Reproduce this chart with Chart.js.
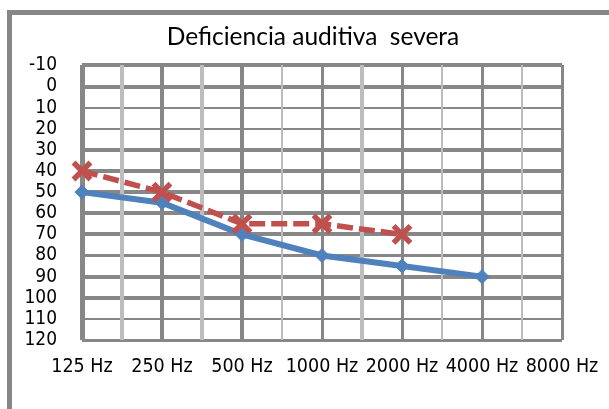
<!DOCTYPE html>
<html>
<head>
<meta charset="utf-8">
<script src="https://cdn.jsdelivr.net/npm/chart.js@4/dist/chart.umd.min.js"></script>
<style>
  html, body { margin: 0; padding: 0; background: #fff; overflow: hidden; }
  #wrap { position: relative; width: 609px; height: 409px; overflow: hidden; }
  #frame { position: absolute; left: 7px; top: 10px; width: 700px; height: 500px;
           border: 5px solid #878787; box-sizing: border-box; }
  canvas { position: absolute; left: 0; top: 0; }
</style>
</head>
<body>
<div id="wrap">
  <div id="frame"></div>
  <canvas id="c" width="609" height="409"></canvas>
</div>
<script>
// ---- data ----
const categories = ['125 Hz', '250 Hz', '500 Hz', '1000 Hz', '2000 Hz', '4000 Hz', '8000 Hz'];
const serieAzul = [50, 55, 70, 80, 85, 90, null];
const serieRoja = [40, 50, 65, 65, 70, null, null];
const yTickLabels = [-10, 0, 10, 20, 30, 40, 50, 60, 70, 80, 90, 100, 110, 120];
const titulo = 'Deficiencia auditiva  severa';

// ---- styles ----
const hWidths = [3, 2, 4, 4, 3, 4, 4, 4, 4, 4, 2, 2, 4, 4];
const vWidths = [5, 4, 4, 4, 4, 2, 3, 4, 3, 2, 3, 2, 3];
const darkGrid = '#878787';
const lightGrid = '#bdbdbd';
const labelFont = "'Liberation Sans Narrow', 'DejaVu Sans Condensed', sans-serif";

new Chart(document.getElementById('c'), {
  type: 'line',
  data: {
    labels: categories,
    datasets: [
      {
        label: 'Serie 1',
        data: serieAzul,
        xAxisID: 'x',
        yAxisID: 'y',
        order: 2,
        borderColor: '#4F81BD',
        backgroundColor: '#4F81BD',
        borderWidth: 6,
        pointStyle: 'rectRot',
        pointRadius: 7,
        pointBorderWidth: 1,
        pointBackgroundColor: '#4F81BD',
        pointBorderColor: '#4F81BD',
        tension: 0,
        spanGaps: false
      },
      {
        label: 'Serie 2',
        data: serieRoja,
        xAxisID: 'x',
        yAxisID: 'y',
        order: 1,
        borderColor: '#C0504D',
        backgroundColor: '#C0504D',
        borderWidth: 5.5,
        borderDash: [16, 6],
        pointStyle: 'crossRot',
        pointRadius: 12,
        pointBorderWidth: 5.5,
        pointBorderColor: '#C0504D',
        tension: 0
      }
    ]
  },
  options: {
    responsive: false,
    animation: false,
    events: [],
    layout: { padding: { left: 17, right: 0, top: 0, bottom: 0 } },
    plugins: {
      legend: { display: false },
      tooltip: { enabled: false },
      title: {
        display: true,
        text: titulo,
        color: '#000',
        font: { family: "Lato, sans-serif", size: 24.5, weight: 'normal', lineHeight: 1.2 },
        padding: { top: 22, bottom: 14 }
      }
    },
    scales: {
      x: {
        type: 'category',
        position: 'bottom',
        offset: false,
        grid: { display: false, drawTicks: false },
        border: { display: false },
        ticks: {
          color: '#000',
          font: { family: labelFont, size: 19.5 },
          padding: 15,
          maxRotation: 0,
          autoSkip: false
        },
        afterFit: (s) => { s.height = 69; s.paddingLeft = 0; s.paddingRight = 0; }
      },
      xg: {
        type: 'linear',
        position: 'top',
        min: 0,
        max: (categories.length - 1) * 2,
        ticks: { display: false, stepSize: 1 },
        grid: {
          z: -1,
          drawTicks: false,
          color: (ctx) => (ctx.index % 2 === 0 ? darkGrid : lightGrid),
          lineWidth: (ctx) => vWidths[ctx.index] || 2
        },
        border: { display: false },
        afterFit: (s) => { s.height = 0; s.paddingLeft = 0; s.paddingRight = 0; }
      },
      y: {
        type: 'linear',
        position: 'left',
        reverse: true,
        min: yTickLabels[0],
        max: yTickLabels[yTickLabels.length - 1],
        ticks: {
          stepSize: 10,
          color: '#000',
          font: { family: labelFont, size: 19 },
          padding: 25,
          autoSkip: false,
          callback: (v) => (yTickLabels.includes(v) ? String(v) : '')
        },
        grid: {
          z: -2,
          drawTicks: false,
          color: darkGrid,
          lineWidth: (ctx) => hWidths[ctx.index] || 3
        },
        border: { display: false },
        afterFit: (s) => { s.width = 65; }
      },
      yPad: {
        type: 'linear',
        position: 'right',
        display: true,
        ticks: { display: false },
        grid: { display: false, drawTicks: false },
        border: { display: false },
        afterFit: (s) => { s.width = 47; }
      }
    }
  }
});
</script>
</body>
</html>
